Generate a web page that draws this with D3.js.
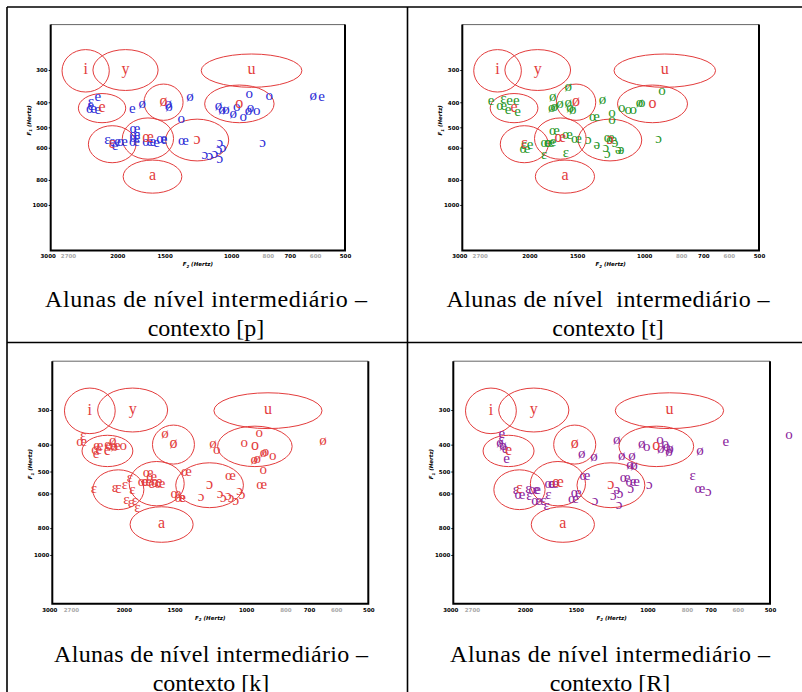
<!DOCTYPE html>
<html><head><meta charset="utf-8">
<script src="https://cdn.jsdelivr.net/npm/d3@7"></script>
<style>body{margin:0;background:#fff}svg{display:block}</style>
</head><body>
<svg id="chart" width="802" height="692"></svg>
<script>
// Axis ticks (Hz) shared by the four vowel charts
const f2TickValues = [3000, 2700, 2000, 1500, 1000, 800, 700, 600, 500];
const f2TickMuted = [2700, 800, 600];
const f1TickValues = [300, 400, 500, 600, 800, 1000];
const f2Domain = [3000, 500];
const f1Domain = [200, 1500];

// Reference vowel areas: F2 and F1 extents of each ellipse
const refVowels = ["i", "y", "u", "e", "ø", "o", "ɛ", "œ", "ɔ", "a"];
const refF2Span = [[2800, 2100], [2320, 1560], [1200, 650], [2535, 1900], [1700, 1340],
                   [1175, 770], [2385, 1785], [1940, 1420], [1490, 1015], [1930, 1350]];
const refF1Span = [[250, 365], [250, 360], [260, 350], [370, 480], [340, 470],
                   [343, 480], [493, 686], [460, 665], [465, 675], [670, 900]];

// Context [p]
const pVowel = ["e","ɛ","e","œ","e","e","ø","ø","ø","ø","o","ɛ","e","e","œ","e","œ","œ","œ","œ","œ","e","e","œ","e","œ",
                "ø","ø","ø","ø","o","o","ø","o","o","o","o","ø","e","ɔ","ɔ","ɔ","ɔ","ɔ","ɔ","ɔ","ɔ"];
const pF2 = [2250,2350,2350,2340,2250,1825,1718,1466,1460,1285,1355,2123,2060,1998,1938,2028,1796,1796,1796,1801,1662,1612,1574,1527,1505,1338,
             1080,1057,1032,987,967,929,900,889,856,896,793,607,577,1071,826,1173,1138,1104,1077,1071,1051];
const pF1 = [385,402,414,427,432,426,410,410,421,382,466,565,575,573,575,596,510,536,555,575,575,575,576,560,565,569,
             417,431,432,448,421,458,436,423,436,375,380,380,382,577,578,646,652,635,618,664,607];

// Context [t]
const tVowel = ["e","ɛ","e","e","œ","e","e","ø","ø","ø","ø","ø","ø","ø","ø","ø","œ","o","o","œ","œ","œ","œ","œ","e","ɛ","ɛ","ɛ","œ","e",
                "ɔ","ə","œ","œ","ɔ","ɔ","ɔ","ə","ə","ɔ","o","o","o","o","ø","o"];
const tF2 = [2523,2342,2256,2165,2365,2276,2150,1582,1738,1748,1721,1663,1582,1565,1540,1287,1350,1215,1215,1719,1589,1505,1810,1774,1735,1830,1604,2067,2054,1993,
             1402,1332,1235,1217,1193,1260,1250,1170,1150,917,898,1146,1101,1068,1029,1015];
const tF1 = [399,389,396,396,414,431,440,352,385,422,420,410,403,423,432,394,460,444,471,518,538,560,577,577,575,643,632,591,610,586,
             565,586,552,563,577,603,635,615,615,560,363,422,429,429,406,404];

// Context [k]
const kVowel = ["œ","ɛ","e","œ","e","e","e","œ","ø","ø","e","o","ø","œ","œ","œ","œ","e","œ","ɛ","ɛ","ɛ","ɛ","ɛ","ɛ","ɛ","ɛ","ɛ",
                "œ","œ","e","œ","ɔ","œ","œ","ɔ","ɔ","ɔ","ɔ","ɔ","ɔ","ɔ","ø","o","o","o","ø","ø","ø","o","o","o","ø"];
const kF2 = [2540,2517,2333,2333,2342,2289,2194,2151,2130,2111,2075,2006,1584,1741,1708,1791,1757,1708,1629,2369,2103,1987,1931,1906,1972,1922,1877,1851,
             1488,1455,1433,1403,1291,1093,915,1159,1137,1106,1089,1060,1037,1023,1206,1181,928,1011,955,938,906,896,860,907,646];
const kF1 = [393,375,405,420,436,406,403,405,390,409,405,405,369,508,525,549,549,559,555,580,578,562,530,584,634,651,639,680,
             603,626,626,506,621,521,564,603,625,618,625,643,589,608,401,421,366,397,457,453,431,426,443,494,391];

// Context [R]
const rVowel = ["e","ɛ","ø","ø","e","e","ø","ø","ø","ø","ø","ø","ø","ø","o","o","ø","o","o","ø","ø","ø","e","o",
                "œ","œ","œ","ɛ","ɛ","œ","e","œ","ɛ","ɛ","œ","ɛ","ɛ","œ","œ","ɔ","ə","ɔ","ɔ","ɔ","œ","œ","e","ɔ","ɔ","ɛ","œ","ɔ"];
const rF2 = [2281,2284,2303,2264,2239,2218,1190,1451,1353,1157,1091,1104,1079,1033,1004,931,928,905,897,880,886,743,642,449,
             1736,1702,1424,2104,1962,1900,1861,2057,1951,1752,1871,1803,1768,1521,1498,1345,1190,1213,1168,1175,1135,1099,1063,1099,989,774,743,709];
const rF1 = [369,385,396,408,415,452,385,436,444,440,440,474,480,398,409,385,416,401,409,418,428,424,394,372,
             559,555,522,586,583,586,586,608,616,608,643,643,670,630,599,643,586,613,603,664,529,549,549,583,564,522,580,596];

const captionLine1 = ["Alunas de nível intermediário –", "Alunas de nível  intermediário –",
                      "Alunas de nível intermediário –", "Alunas de nível intermediário –"];
const captionLine2 = ["contexto [p]", "contexto [t]", "contexto [k]", "contexto [R]"];

const refColor = "#e33c3c";
const series = [
  {vowel: pVowel, f2: pF2, f1: pF1, color: "#2a2ad6"},
  {vowel: tVowel, f2: tF2, f1: tF1, color: "#1f961f"},
  {vowel: kVowel, f2: kF2, f1: kF1, color: refColor},
  {vowel: rVowel, f2: rF2, f1: rF1, color: "#8a1c9c"}
];

// Plot frames and caption anchors of the 2x2 table
const frames = [
  {x0: 50.7, x1: 345, y0: 24.6, y1: 250.4, cx: 206, cy: 307, capW: 322},
  {x0: 462.3, x1: 759, y0: 24.6, y1: 250.4, cx: 608, cy: 307, capW: 323},
  {x0: 52.3, x1: 368.3, y0: 361.2, y1: 603.8, cx: 211, cy: 662, capW: 314},
  {x0: 453.3, x1: 770, y0: 361.2, y1: 603.8, cx: 610, cy: 662, capW: 320}
];

const svg = d3.select("#chart");

// Table rules
const rules = [[7, 7, 802, 7], [7, 7, 7, 692], [407.5, 7, 407.5, 692], [7, 342.5, 802, 342.5]];
svg.selectAll("line.rule").data(rules).join("line")
  .attr("x1", d => d[0]).attr("y1", d => d[1]).attr("x2", d => d[2]).attr("y2", d => d[3])
  .attr("stroke", "#000").attr("stroke-width", 1.6);

const symFont = "'Liberation Serif','Times New Roman',serif";

frames.forEach((fr, i) => {
  const s = series[i];
  const x = d3.scaleLog().domain(f2Domain).range([fr.x0, fr.x1]);
  const y = d3.scaleLog().domain(f1Domain).range([fr.y0, fr.y1]);
  const g = svg.append("g");

  // frame
  g.append("line").attr("x1", fr.x0).attr("x2", fr.x1).attr("y1", fr.y0).attr("y2", fr.y0)
    .attr("stroke", "#666").attr("stroke-width", 1);
  g.append("path")
    .attr("d", `M${fr.x0},${fr.y0}V${fr.y1}H${fr.x1}V${fr.y0}`)
    .attr("fill", "none").attr("stroke", "#000").attr("stroke-width", 2);

  // F2 axis
  const xAxis = d3.axisBottom(x).tickValues(f2TickValues).tickSize(0).tickPadding(4)
    .tickFormat(d3.format("d"));
  const gx = g.append("g").attr("transform", `translate(0,${fr.y1})`).call(xAxis);
  gx.select(".domain").remove();
  gx.selectAll("text")
    .attr("font-family", "'DejaVu Sans',sans-serif").attr("font-weight", "bold").attr("font-size", 5.5)
    .attr("fill", d => f2TickMuted.includes(d) ? "#a8a8a8" : "#000");
  gx.selectAll("text").filter(d => d === 3000).attr("dx", -3);

  // F1 axis
  const yAxis = d3.axisLeft(y).tickValues(f1TickValues).tickSize(2).tickPadding(1)
    .tickFormat(d3.format("d"));
  const gy = g.append("g").attr("transform", `translate(${fr.x0},0)`).call(yAxis);
  gy.select(".domain").remove();
  gy.selectAll("line").attr("stroke", "#000");
  gy.selectAll("text")
    .attr("font-family", "'DejaVu Sans',sans-serif").attr("font-weight", "bold").attr("font-size", 5.5);

  // axis titles
  const tx = g.append("text").attr("x", (fr.x0 + fr.x1) / 2).attr("y", fr.y1 + 16)
    .attr("text-anchor", "middle").attr("font-family", "'DejaVu Sans',sans-serif")
    .attr("font-weight", "bold").attr("font-style", "italic").attr("font-size", 5.5);
  tx.append("tspan").text("F");
  tx.append("tspan").attr("dy", 1.5).attr("font-size", 4).text("2");
  tx.append("tspan").attr("dy", -1.5).text("  (Hertz)");

  const ty = g.append("text")
    .attr("transform", `translate(${fr.x0 - 20},${y(470)}) rotate(-90)`)
    .attr("text-anchor", "middle").attr("font-family", "'DejaVu Sans',sans-serif")
    .attr("font-weight", "bold").attr("font-style", "italic").attr("font-size", 5.5);
  ty.append("tspan").text("F");
  ty.append("tspan").attr("dy", 1.5).attr("font-size", 4).text("1");
  ty.append("tspan").attr("dy", -1.5).text("  (Hertz)");

  // reference ellipses with their vowel labels
  const refs = refVowels.map((v, k) => ({v, f2: refF2Span[k], f1: refF1Span[k]}));
  g.selectAll("ellipse").data(refs).join("ellipse")
    .attr("cx", d => (x(d.f2[0]) + x(d.f2[1])) / 2)
    .attr("cy", d => (y(d.f1[0]) + y(d.f1[1])) / 2)
    .attr("rx", d => Math.abs(x(d.f2[1]) - x(d.f2[0])) / 2)
    .attr("ry", d => Math.abs(y(d.f1[1]) - y(d.f1[0])) / 2)
    .attr("fill", "none").attr("stroke", refColor).attr("stroke-width", 1);

  // speaker tokens
  const pts = s.vowel.map((v, k) => ({v, f2: s.f2[k], f1: s.f1[k]}));
  g.selectAll("text.tok").data(pts).join("text").attr("class", "tok")
    .attr("x", d => x(d.f2)).attr("y", d => y(d.f1)).attr("dy", "0.23em")
    .attr("text-anchor", "middle").attr("font-family", symFont).attr("font-size", 15)
    .attr("fill", s.color).text(d => d.v);

  g.selectAll("text.ref").data(refs).join("text").attr("class", "ref")
    .attr("x", d => (x(d.f2[0]) + x(d.f2[1])) / 2)
    .attr("y", d => (y(d.f1[0]) + y(d.f1[1])) / 2).attr("dy", "0.23em")
    .attr("text-anchor", "middle").attr("font-family", symFont).attr("font-size", 16)
    .attr("fill", refColor).text(d => d.v);

  // caption
  const cap = g.append("text").attr("text-anchor", "middle").attr("font-family", symFont)
    .attr("font-size", 24).attr("fill", "#000").attr("xml:space", "preserve");
  cap.append("tspan").attr("x", fr.cx).attr("y", fr.cy)
    .attr("textLength", fr.capW).attr("lengthAdjust", "spacing").text(captionLine1[i]);
  cap.append("tspan").attr("x", fr.cx).attr("y", fr.cy + 29).text(captionLine2[i]);
});
</script>
</body></html>
